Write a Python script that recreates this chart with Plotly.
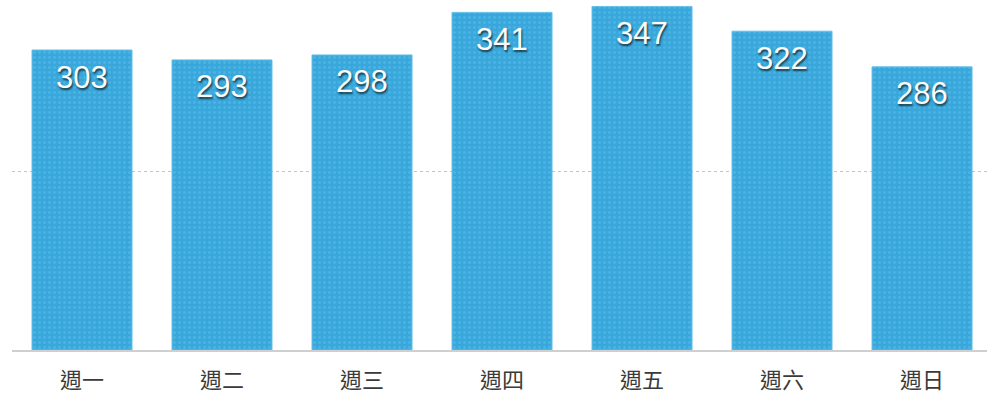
import plotly.graph_objects as go

days = ["週一", "週二", "週三", "週四", "週五", "週六", "週日"]
visits = [303, 293, 298, 341, 347, 322, 286]
grid_values = [180]

bar_color = "#38a8dc"

fig = go.Figure()
fig.add_trace(go.Bar(
    x=days,
    y=visits,
    marker=dict(
        color=bar_color,
        line=dict(color="#66c0ea", width=1),
        pattern=dict(shape=".", fgcolor="#62bee8", bgcolor=bar_color,
                     size=5, solidity=0.25, fillmode="overlay"),
    ),
    hoverinfo="x+y",
))

# value labels sitting just under the top of each bar
for d, v in zip(days, visits):
    fig.add_annotation(
        x=d, y=v, text=str(v), showarrow=False,
        yanchor="middle", yshift=-27,
        font=dict(family="Liberation Sans, Arial, sans-serif", size=31,
                  color="#fbfbfb", shadow="1px 2px 2px rgba(0,0,0,0.65)"),
    )

fig.update_layout(
    width=987, height=398,
    margin=dict(l=12, r=0, t=0, b=48),
    paper_bgcolor="white", plot_bgcolor="white",
    bargap=0.2857,
    showlegend=False,
)
fig.update_xaxes(
    range=[-0.5, 6.464],
    showline=True, linecolor="#cfcfcf", linewidth=2,
    ticks="outside", ticklen=10, tickcolor="rgba(0,0,0,0)",
    tickfont=dict(family="Noto Sans CJK TC, sans-serif", size=22, color="#3a3a3a"),
    showgrid=False,
)
fig.update_yaxes(
    range=[0, 353.5],
    tickvals=grid_values, showticklabels=False,
    showgrid=True, gridcolor="#c4c4c4", griddash="dot", gridwidth=1,
    zeroline=False,
)

fig.write_html("out.html")
